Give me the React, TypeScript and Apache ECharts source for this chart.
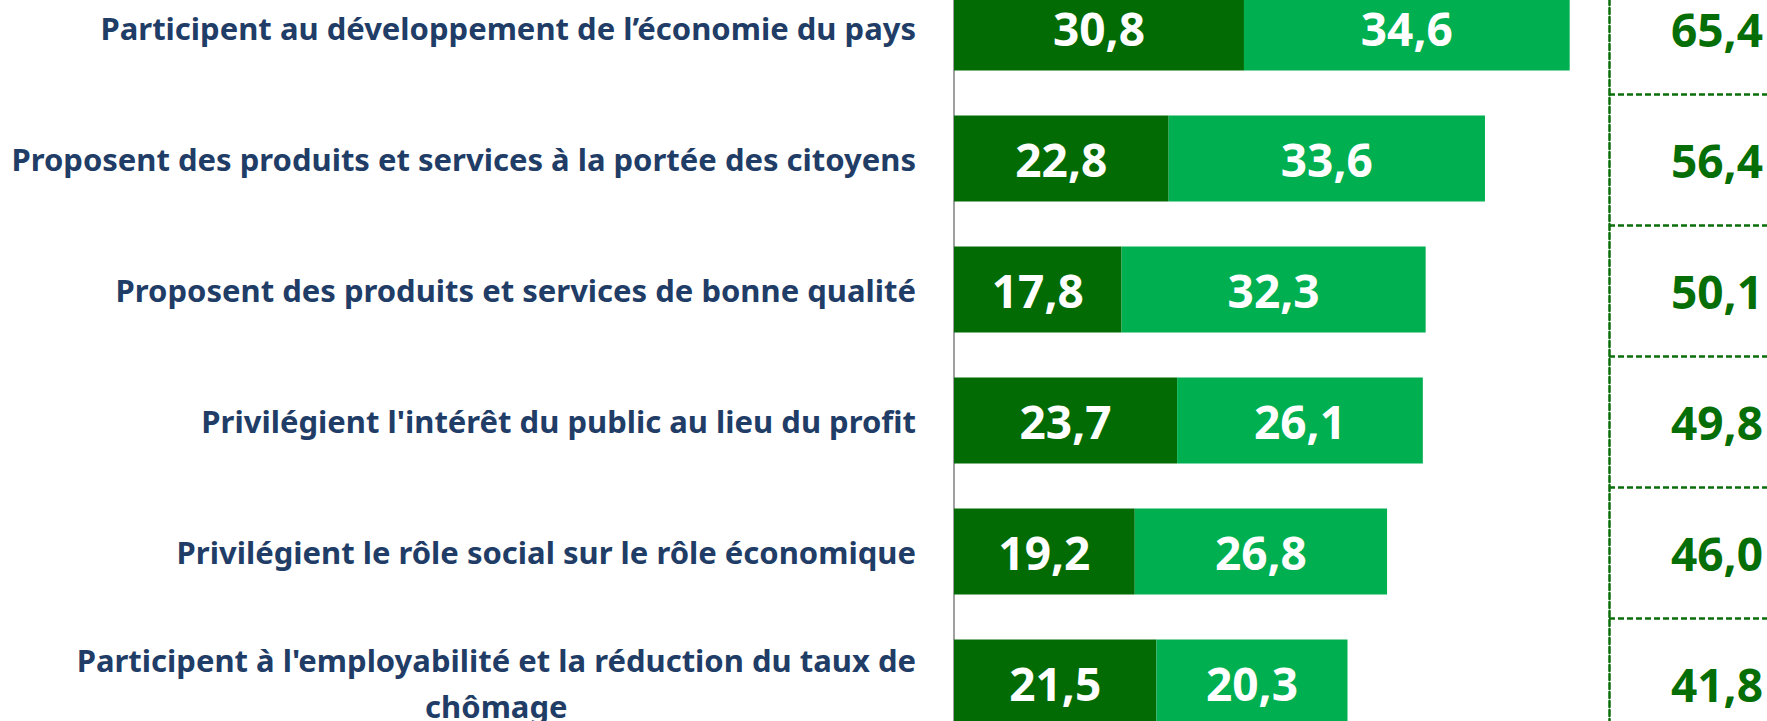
import React, { useEffect, useRef } from "react";
import * as echarts from "echarts";

const categories = [
  "Participent au développement de l’économie du pays",
  "Proposent des produits et services à la portée des citoyens",
  "Proposent des produits et services de bonne qualité",
  "Privilégient l'intérêt du public au lieu du profit",
  "Privilégient le rôle social sur le rôle économique",
  "Participent à l'employabilité et la réduction du taux de\nchômage",
];
const darkValues = [30.8, 22.8, 17.8, 23.7, 19.2, 21.5];
const lightValues = [34.6, 33.6, 32.3, 26.1, 26.8, 20.3];
const totals = [65.4, 56.4, 50.1, 49.8, 46.0, 41.8];

const fmt = (v: number) => v.toFixed(1).replace(".", ",");

const DARK = "#036B03";
const LIGHT = "#00AF50";
const TOTAL_COLOR = "#066E06";
const LABEL_COLOR = "#1F3D66";
const FONT = "'Noto Sans', sans-serif";

export default function App() {
  const ref = useRef<HTMLDivElement>(null);
  useEffect(() => {
    if (!ref.current) return;
    const chart = echarts.init(ref.current, undefined, { renderer: "svg" });
    const gridTop = 0;
    const gridHeight = 786;
    const dashed = { color: "#0A6E0A", width: 2.5, type: [6, 3] as number[] };
    chart.setOption({
      animation: false,
      backgroundColor: "#ffffff",
      grid: [
        { left: 954, right: 154, top: gridTop, height: gridHeight, containLabel: false },
        { left: 1609, right: 0, top: gridTop + 1, height: gridHeight, containLabel: false },
      ],
      xAxis: [
        { type: "value", gridIndex: 0, min: 0, max: 70, show: false },
        { type: "value", gridIndex: 1, min: 0, max: 1, show: false },
      ],
      yAxis: [
        {
          type: "category",
          gridIndex: 0,
          inverse: true,
          data: categories,
          axisLine: { show: true, lineStyle: { color: "#A0A0A0", width: 2 } },
          axisTick: { show: false },
          splitLine: { show: false },
          axisLabel: {
            interval: 0,
            margin: 38,
            align: "right",
            color: LABEL_COLOR,
            fontFamily: FONT,
            fontWeight: "bold",
            fontSize: 31,
            lineHeight: 46,
            formatter: (v: string) => {
              if (v.indexOf("\n") >= 0) {
                return v
                  .split("\n")
                  .map((l) => "{c|" + l + "}")
                  .join("\n");
              }
              return v;
            },
            rich: {
              c: {
                align: "center",
                color: LABEL_COLOR,
                fontFamily: FONT,
                fontWeight: "bold",
                fontSize: 31,
                lineHeight: 46,
              },
            },
          },
        },
        {
          type: "category",
          gridIndex: 1,
          inverse: true,
          data: totals.map(fmt),
          axisLine: { show: true, lineStyle: dashed },
          axisTick: { show: false },
          splitLine: { show: true, lineStyle: dashed },
          axisLabel: {
            interval: 0,
            inside: true,
            align: "right",
            margin: 154,
            color: TOTAL_COLOR,
            fontFamily: FONT,
            fontWeight: "bold",
            fontSize: 46,
            padding: [4, 0, 0, 0],
          },
        },
      ],
      series: [
        {
          type: "bar",
          stack: "s",
          data: darkValues,
          barWidth: "65.6%",
          itemStyle: { color: DARK },
          label: {
            show: true,
            position: "inside",
            color: "#ffffff",
            fontFamily: FONT,
            fontWeight: "bold",
            fontSize: 46,
            formatter: (p: any) => fmt(p.value),
          },
        },
        {
          type: "bar",
          stack: "s",
          data: lightValues,
          barWidth: "65.6%",
          itemStyle: { color: LIGHT },
          label: {
            show: true,
            position: "inside",
            color: "#ffffff",
            fontFamily: FONT,
            fontWeight: "bold",
            fontSize: 46,
            formatter: (p: any) => fmt(p.value),
          },
        },
      ],
    });
    return () => chart.dispose();
  }, []);
  return (
    <div
      ref={ref}
      style={{ position: "fixed", left: 0, top: -38, width: 1767, height: 800 }}
    />
  );
}
